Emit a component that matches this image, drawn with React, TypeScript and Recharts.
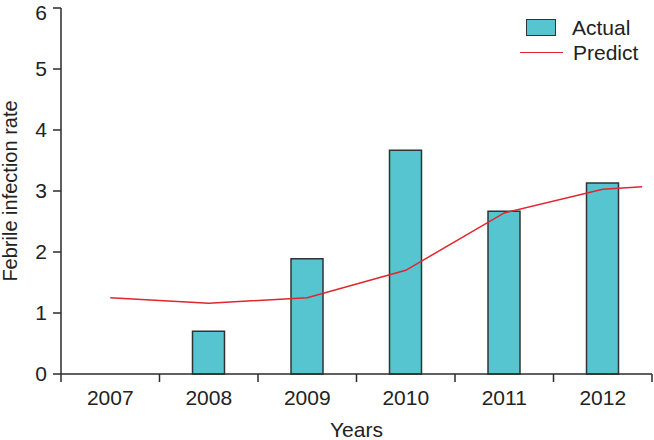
import React from 'react';
import { ComposedChart, Bar, Line, XAxis, YAxis } from 'recharts';

const years = ['2007', '2008', '2009', '2010', '2011', '2012'];
const actual = [0, 0.7, 1.89, 3.67, 2.67, 3.13];

// predicted curve, drawn against a numeric year axis (it runs a bit past 2012)
const predictYears = [2007, 2008, 2009, 2010, 2011, 2012, 2012.4];
const predictValues = [1.25, 1.16, 1.25, 1.7, 2.64, 3.03, 3.07];

const yTicks = [0, 1, 2, 3, 4, 5, 6];
// tick marks sit between the years, labels sit on the years
const yearEdges = [2006.5, 2007.5, 2008.5, 2009.5, 2010.5, 2011.5, 2012.5];
const yearTicks = [...yearEdges, 2007, 2008, 2009, 2010, 2011, 2012].sort((a, b) => a - b);

const barData = years.map((y, i) => ({ year: y, actual: actual[i] }));
const lineData = predictYears.map((x, i) => ({ x, predict: predictValues[i] }));

const axisColor = '#2b2b2b';
const textColor = '#222';
const fontFamily = 'Liberation Sans, Arial, sans-serif';

const YearTick = (props: any) => {
  const { x, y, payload } = props;
  const v = payload.value;
  if (!Number.isInteger(v)) {
    return <line x1={x} x2={x} y1={y} y2={y + 8} stroke={axisColor} strokeWidth={1.5} />;
  }
  return (
    <text x={x} y={y + 31} textAnchor="middle" fill={textColor} fontSize={21} fontFamily={fontFamily}>
      {v}
    </text>
  );
};

const LegendBox = () => (
  <div style={{ position: 'absolute', left: 520, top: 15, fontFamily, fontSize: 21, color: textColor, lineHeight: '25px' }}>
    <div style={{ display: 'flex', alignItems: 'center' }}>
      <span style={{ display: 'inline-block', width: 28, height: 15, background: '#56c5d0', border: '1.5px solid #333', marginLeft: 6, marginRight: 16 }} />
      <span>Actual</span>
    </div>
    <div style={{ display: 'flex', alignItems: 'center' }}>
      <span style={{ display: 'inline-block', width: 43, height: 0, borderTop: '1.5px solid #e0262e', marginRight: 10 }} />
      <span>Predict</span>
    </div>
  </div>
);

export default function App() {
  return (
    <div style={{ position: 'absolute', left: 0, top: 0, width: 654, height: 440, background: '#fff' }}>
      <ComposedChart width={654} height={440} data={barData} margin={{ top: 8, right: 2, bottom: 0, left: 0 }}>
        <XAxis xAxisId="cat" dataKey="year" hide height={0} />
        <XAxis
          xAxisId="num"
          type="number"
          dataKey="x"
          domain={[2006.5, 2012.5]}
          ticks={yearTicks}
          interval={0}
          tickLine={false}
          tickSize={0}
          tickMargin={0}
          tick={<YearTick />}
          height={66}
          stroke={axisColor}
          strokeWidth={1.5}
          allowDataOverflow
          label={{ value: 'Years', position: 'insideBottom', offset: 3, fill: textColor, fontSize: 21, fontFamily }}
        />
        <YAxis
          domain={[0, 6]}
          ticks={yTicks}
          width={61}
          tickSize={8}
          tickMargin={6}
          stroke={axisColor}
          strokeWidth={1.5}
          tick={{ fill: textColor, fontSize: 21, fontFamily }}
          label={{ value: 'Febrile infection rate', angle: -90, position: 'insideLeft', offset: 0, dx: 10, fill: textColor, fontSize: 20, fontFamily, style: { textAnchor: 'middle' } }}
        />
        <Bar
          xAxisId="cat"
          dataKey="actual"
          name="Actual"
          fill="#56c5d0"
          stroke="#333"
          strokeWidth={1.5}
          barSize={32}
          isAnimationActive={false}
        />
        <Line
          xAxisId="num"
          data={lineData}
          dataKey="predict"
          name="Predict"
          type="linear"
          stroke="#e0262e"
          strokeWidth={1.5}
          dot={false}
          activeDot={false}
          isAnimationActive={false}
        />
      </ComposedChart>
      <LegendBox />
    </div>
  );
}
